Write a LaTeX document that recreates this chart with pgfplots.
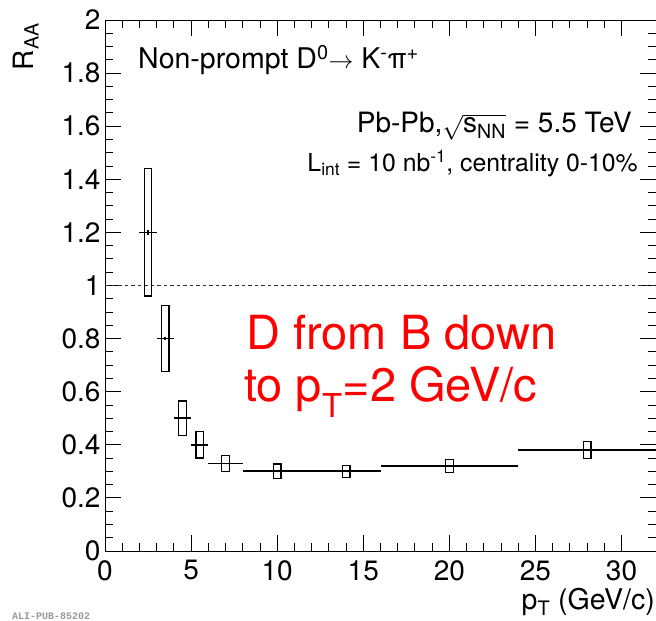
\documentclass[border=0pt]{standalone}
\usepackage{pgfplots}
\pgfplotsset{compat=1.18}
\usepackage{fontspec}
\setmainfont{TeX Gyre Heros}
\setmonofont{Liberation Mono}
\begin{document}
\begin{tikzpicture}
\useasboundingbox (0pt,0pt) rectangle (656pt,621pt);
\begin{axis}[
  at={(105pt,70pt)}, anchor=south west,
  width=551pt, height=531pt, scale only axis,
  xmin=0, xmax=32, ymin=0, ymax=2,
  xtick={0,5,10,15,20,25,30},
  ytick={0,0.2,0.4,0.6,0.8,1,1.2,1.4,1.6,1.8,2},
  minor x tick num=4, minor y tick num=3,
  tick align=inside,
  major tick length=16pt, minor tick length=8pt,
  axis line style={line width=0.9pt},
  tick style={line width=0.9pt, black},
  ticklabel style={font=\fontsize{28}{32}\selectfont},
  /pgf/number format/assume math mode=true,
  xticklabel style={yshift=-6pt},
  yticklabel style={xshift=-1pt},
]
% reference line at 1
\addplot[black!80, line width=0.8pt, dash pattern=on 3.5pt off 3pt] coordinates {(0,1) (32,1)};
% bin widths and statistical errors
\addplot[draw=none, mark=none,
  error bars/.cd, x dir=both, x explicit, y dir=both, y explicit,
  error mark=none, error bar style={line width=1.7pt, draw=black, solid}]
  table[x=x, y=y, x error minus=exm, x error plus=exp, y error=ey] {
  x    y     exm  exp  ey
  2.5  1.20  0.5  0.5  0.008
  3.5  0.80  0.5  0.5  0.006
  4.5  0.50  0.5  0.5  0.004
  5.5  0.40  0.5  0.5  0.003
  7    0.33  1    1    0.002
  10   0.30  2    2    0.0
  14   0.30  2    2    0.0
  20   0.32  4    4    0.0
  28   0.38  4    4    0.0
};
% systematic uncertainty boxes
\addplot[black, line width=1.3pt] coordinates {(2.28,0.96) (2.72,0.96) (2.72,1.44) (2.28,1.44) (2.28,0.96)} -- cycle;
\addplot[black, line width=1.3pt] coordinates {(3.28,0.675) (3.72,0.675) (3.72,0.925) (3.28,0.925) (3.28,0.675)} -- cycle;
\addplot[black, line width=1.3pt] coordinates {(4.28,0.435) (4.72,0.435) (4.72,0.565) (4.28,0.565) (4.28,0.435)} -- cycle;
\addplot[black, line width=1.3pt] coordinates {(5.28,0.35) (5.72,0.35) (5.72,0.45) (5.28,0.45) (5.28,0.35)} -- cycle;
\addplot[black, line width=1.3pt] coordinates {(6.78,0.30) (7.22,0.30) (7.22,0.36) (6.78,0.36) (6.78,0.30)} -- cycle;
\addplot[black, line width=1.3pt] coordinates {(9.78,0.272) (10.22,0.272) (10.22,0.328) (9.78,0.328) (9.78,0.272)} -- cycle;
\addplot[black, line width=1.3pt] coordinates {(13.78,0.278) (14.22,0.278) (14.22,0.322) (13.78,0.322) (13.78,0.278)} -- cycle;
\addplot[black, line width=1.3pt] coordinates {(19.78,0.295) (20.22,0.295) (20.22,0.345) (19.78,0.345) (19.78,0.295)} -- cycle;
\addplot[black, line width=1.3pt] coordinates {(27.78,0.348) (28.22,0.348) (28.22,0.412) (27.78,0.412) (27.78,0.348)} -- cycle;
\end{axis}
% texts
\node[anchor=base west, inner sep=0pt, font=\fontsize{28.5}{32}\selectfont] at (138pt,552pt)
  {Non-prompt D\textsuperscript{0}$\rightarrow$ K\textsuperscript{-}π\textsuperscript{+}};
\node[anchor=base east, inner sep=0pt, font=\fontsize{28}{32}\selectfont] at (632pt,488pt)
  {Pb-Pb,$\sqrt{\mbox{s\textsubscript{NN}}}$ = 5.5 TeV};
\node[anchor=base east, inner sep=0pt, font=\fontsize{24.8}{28}\selectfont] at (638pt,449pt)
  {L\textsubscript{int} = 10 nb\textsuperscript{-1}, centrality 0-10\%};
\node[anchor=base west, inner sep=0pt, text=red, font=\fontsize{47}{52}\selectfont] at (246pt,271pt)
  {D from B down};
\node[anchor=base west, inner sep=0pt, text=red, font=\fontsize{47}{52}\selectfont] at (244pt,219pt)
  {to p\textsubscript{T}=2 GeV/c};
\node[anchor=base east, inner sep=0pt, rotate=90, font=\fontsize{28}{32}\selectfont] at (33pt,598pt)
  {R\textsubscript{AA}};
\node[anchor=base east, inner sep=0pt, font=\fontsize{28.5}{32}\selectfont] at (655pt,11pt)
  {p\textsubscript{T} (GeV/c)};
\node[anchor=south west, inner sep=0pt, text=black!40, font=\ttfamily\bfseries\fontsize{10}{12}\selectfont] at (12pt,1pt)
  {ALI-PUB-85202};
\end{tikzpicture}
\end{document}
